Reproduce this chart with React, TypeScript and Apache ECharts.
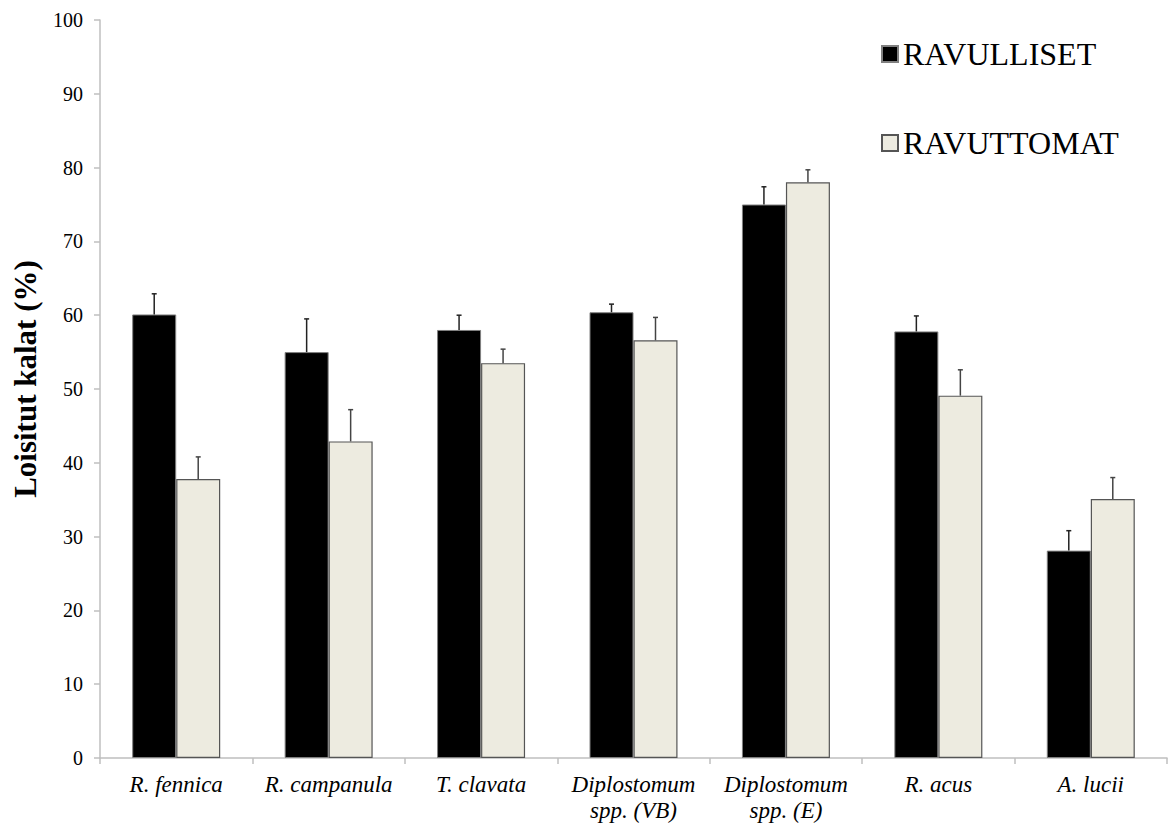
import React, { useEffect, useRef } from "react";
import * as echarts from "echarts";

const categories = [
  "R. fennica",
  "R. campanula",
  "T. clavata",
  "Diplostomum\nspp. (VB)",
  "Diplostomum\nspp. (E)",
  "R. acus",
  "A. lucii",
];
const ravulliset = [60.1, 55.0, 58.0, 60.4, 75.0, 57.8, 28.1];
const ravulliErr = [2.8, 4.5, 2.0, 1.1, 2.4, 2.1, 2.7];
const ravuttomat = [37.8, 42.9, 53.5, 56.6, 78.0, 49.1, 35.1];
const ravuttoErr = [3.0, 4.3, 1.9, 3.1, 1.7, 3.5, 2.9];
const yTicks = { min: 0, max: 100, interval: 10 };
const yTitle = "Loisitut kalat (%)";

const FONT = "'Liberation Serif', 'Times New Roman', serif";
const BAR_W = 44;

function errSeries(name: string, vals: number[], errs: number[], offset: number, color: string) {
  return {
    name: name + "_err",
    type: "custom",
    z: 10,
    silent: true,
    data: vals.map((v, i) => [i, v, v + errs[i]]),
    renderItem: (params: any, api: any) => {
      const base = api.coord([api.value(0), api.value(1)]);
      const top = api.coord([api.value(0), api.value(2)]);
      const x = base[0] + offset;
      return {
        type: "group",
        children: [
          {
            type: "line",
            shape: { x1: x, y1: base[1], x2: x, y2: top[1] },
            style: { stroke: color, lineWidth: 1.5 },
          },
          {
            type: "line",
            shape: { x1: x - 2.5, y1: top[1], x2: x + 2.5, y2: top[1] },
            style: { stroke: color, lineWidth: 1.5 },
          },
        ],
      };
    },
  };
}

export default function App() {
  const ref = useRef<HTMLDivElement>(null);
  useEffect(() => {
    const chart = echarts.init(ref.current!, null, { renderer: "svg" });
    chart.setOption({
      animation: false,
      backgroundColor: "#ffffff",
      textStyle: { fontFamily: FONT },
      grid: { left: 100, right: 2, top: 20, bottom: 68 },
      legend: {
        orient: "vertical",
        left: 876,
        top: 33,
        itemGap: 57,
        itemWidth: 16,
        itemHeight: 16,
        data: [
          { name: "RAVULLISET", icon: "rect" },
          { name: "RAVUTTOMAT", icon: "rect" },
        ],
        textStyle: { fontSize: 32, color: "#000", fontFamily: FONT },
      },
      graphic: [
        {
          type: "text",
          x: 25,
          y: 379,
          rotation: Math.PI / 2,
          style: {
            text: yTitle,
            fontSize: 31,
            fontWeight: "bold",
            fontFamily: FONT,
            fill: "#000",
            align: "center",
            verticalAlign: "middle",
          },
        },
      ],
      xAxis: {
        type: "category",
        data: categories,
        axisLine: { lineStyle: { color: "#BFBFBF", width: 1.5 } },
        axisTick: { show: true, length: 6, lineStyle: { color: "#BFBFBF", width: 1.5 } },
        axisLabel: {
          interval: 0,
          fontSize: 23,
          fontStyle: "italic",
          color: "#000",
          margin: 13,
          lineHeight: 26,
          fontFamily: FONT,
        },
      },
      yAxis: {
        type: "value",
        min: yTicks.min,
        max: yTicks.max,
        interval: yTicks.interval,
        splitLine: { show: false },
        axisLine: { show: true, lineStyle: { color: "#BFBFBF", width: 1.5 } },
        axisTick: { show: true, length: 6, lineStyle: { color: "#BFBFBF", width: 1.5 } },
        axisLabel: { fontSize: 20, color: "#000", margin: 17, fontFamily: FONT },
      },
      series: [
        {
          name: "RAVULLISET",
          type: "bar",
          data: ravulliset,
          barWidth: BAR_W,
          barGap: "0%",
          itemStyle: { color: "#000000", borderColor: "#808080", borderWidth: 1 },
        },
        {
          name: "RAVUTTOMAT",
          type: "bar",
          data: ravuttomat,
          barWidth: BAR_W,
          barGap: "0%",
          itemStyle: { color: "#EDEBE0", borderColor: "#555555", borderWidth: 1.2 },
        },
        errSeries("RAVULLISET", ravulliset, ravulliErr, -BAR_W / 2, "#222"),
        errSeries("RAVUTTOMAT", ravuttomat, ravuttoErr, BAR_W / 2, "#444"),
      ],
    });
    return () => chart.dispose();
  }, []);
  return (
    <div
      ref={ref}
      style={{ position: "fixed", left: 0, top: 0, width: 1169, height: 826 }}
    />
  );
}
